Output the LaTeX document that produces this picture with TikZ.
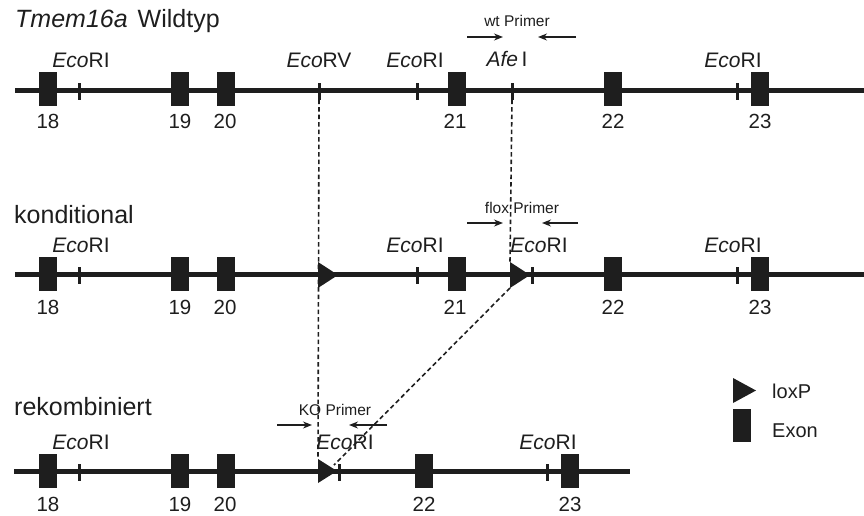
\documentclass[tikz,border=0pt]{standalone}
\usepackage{fontspec}
\setmainfont{Liberation Sans}
\usetikzlibrary{arrows.meta,calc}
\definecolor{ink}{HTML}{1E1E1E}
\tikzset{
  dna/.style={line width=5pt, draw=ink},
  exon/.style={rectangle, fill=ink, draw=none, minimum width=18pt, minimum height=34pt, inner sep=0pt},
  site/.style={rectangle, fill=ink, draw=none, minimum width=3pt, minimum height=17pt, inner sep=0pt},
  lox/.style={fill=ink, draw=none},
  lbl/.style={font=\fontsize{21}{24}\selectfont, anchor=base, text=ink, inner sep=0pt},
  num/.style={font=\fontsize{20.5}{24}\selectfont, anchor=base, text=ink, inner sep=0pt},
  ttl/.style={font=\fontsize{25}{30}\selectfont, anchor=base west, text=ink, inner sep=0pt},
  prm/.style={font=\fontsize{15.5}{18}\selectfont, anchor=base, text=ink, inner sep=0pt},
  leg/.style={font=\fontsize{20}{24}\selectfont, anchor=base west, text=ink, inner sep=0pt},
  parrow/.style={line width=1.3pt, draw=ink, -{Stealth[length=9pt,width=7pt]}},
  guide/.style={line width=1.6pt, draw=ink, dash pattern=on 4.5pt off 3pt},
}
\begin{document}
\begin{tikzpicture}[x=1pt,y=-1pt]
\useasboundingbox (0,0) rectangle (864,515);

% ---------- Row 1: Wildtyp ----------
\node[ttl] (t1) at (15,27) {\textit{Tmem16a}\hspace{10pt}Wildtyp};
\coordinate (l1s) at (15,90);
\coordinate (l1e) at (864,90);
\draw[dna] (l1s) -- (l1e);
\node[exon] (a18) at (48,89) {};
\node[exon] (a19) at (179.5,89) {};
\node[exon] (a20) at (225.5,89) {};
\node[exon] (a21) at (457,89) {};
\node[exon] (a22) at (613,89) {};
\node[exon] (a23) at (760,89) {};
\node[site] (aE1) at (79,91) {};
\node[site] (aRV) at (319,91) {};
\node[site] (aE2) at (417,91) {};
\node[site] (aAfe) at (512,91) {};
\node[site] (aE3) at (737,91) {};
\node[lbl] at (81,67) {\textit{Eco}RI};
\node[lbl] at (319,67) {\textit{Eco}RV};
\node[lbl] at (415,67) {\textit{Eco}RI};
\node[lbl] at (507,66) {\textit{Afe}\,I};
\node[lbl] at (733,67) {\textit{Eco}RI};
\node[num] at (48,128) {18};
\node[num] at (180,128) {19};
\node[num] at (225,128) {20};
\node[num] at (455,128) {21};
\node[num] at (613,128) {22};
\node[num] at (760,128) {23};
\node[prm] (wtp) at (517,26) {wt Primer};
\coordinate (wf1) at (467,37); \coordinate (wf2) at (503,37);
\coordinate (wr1) at (576,37); \coordinate (wr2) at (538,37);
\draw[parrow] (wf1) -- (wf2);
\draw[parrow] (wr1) -- (wr2);

% ---------- Row 2: konditional ----------
\node[ttl] (t2) at (14,223) {konditional};
\coordinate (l2s) at (15,274);
\coordinate (l2e) at (864,274);
\draw[dna] (l2s) -- (l2e);
\node[exon] (b18) at (48,274) {};
\node[exon] (b19) at (179.5,274) {};
\node[exon] (b20) at (225.5,274) {};
\node[exon] (b21) at (457,274) {};
\node[exon] (b22) at (613,274) {};
\node[exon] (b23) at (760,274) {};
\node[site] (bE1) at (79,275) {};
\node[site] (bE2) at (417,275) {};
\node[site] (bE3) at (532,275) {};
\node[site] (bE4) at (737,275) {};
\coordinate (bL1a) at (318,262); \coordinate (bL1b) at (338,275); \coordinate (bL1c) at (318,288);
\fill[lox] (bL1a) -- (bL1b) -- (bL1c) -- cycle;
\coordinate (bL2a) at (510,262); \coordinate (bL2b) at (530,275); \coordinate (bL2c) at (510,288);
\fill[lox] (bL2a) -- (bL2b) -- (bL2c) -- cycle;
\node[lbl] at (81,252) {\textit{Eco}RI};
\node[lbl] at (415,252) {\textit{Eco}RI};
\node[lbl] at (539,252) {\textit{Eco}RI};
\node[lbl] at (733,252) {\textit{Eco}RI};
\node[num] at (48,314) {18};
\node[num] at (180,314) {19};
\node[num] at (225,314) {20};
\node[num] at (455,314) {21};
\node[num] at (613,314) {22};
\node[num] at (760,314) {23};
\node[prm] (flp) at (522,213) {flox Primer};
\coordinate (ff1) at (467,223); \coordinate (ff2) at (503,223);
\coordinate (fr1) at (578,223); \coordinate (fr2) at (542,223);
\draw[parrow] (ff1) -- (ff2);
\draw[parrow] (fr1) -- (fr2);

% ---------- Row 3: rekombiniert ----------
\node[ttl] (t3) at (14,415) {rekombiniert};
\coordinate (l3s) at (14,471);
\coordinate (l3e) at (630,471);
\draw[dna] (l3s) -- (l3e);
\node[exon] (c18) at (48,470.5) {};
\node[exon] (c19) at (179.5,470.5) {};
\node[exon] (c20) at (225.5,470.5) {};
\node[exon] (c22) at (424,470.5) {};
\node[exon] (c23) at (570,470.5) {};
\node[site] (cE1) at (79,472) {};
\node[site] (cE2) at (339,472) {};
\node[site] (cE3) at (547,472) {};
\coordinate (cL1a) at (318,459); \coordinate (cL1b) at (337,471); \coordinate (cL1c) at (318,483);
\fill[lox] (cL1a) -- (cL1b) -- (cL1c) -- cycle;
\node[lbl] at (81,449) {\textit{Eco}RI};
\node[lbl] at (345,449) {\textit{Eco}RI};
\node[lbl] at (548,449) {\textit{Eco}RI};
\node[num] at (48,511) {18};
\node[num] at (180,511) {19};
\node[num] at (225,511) {20};
\node[num] at (424,511) {22};
\node[num] at (570,511) {23};
\node[prm] (kop) at (335,415) {KO Primer};
\coordinate (kf1) at (277,425); \coordinate (kf2) at (312,425);
\coordinate (kr1) at (387,425); \coordinate (kr2) at (349,425);
\draw[parrow] (kf1) -- (kf2);
\draw[parrow] (kr1) -- (kr2);

% ---------- guide lines ----------
\draw[guide] (aRV.south) -- (cL1a);
\draw[guide] (aAfe.south) -- (bL2a);
\draw[guide] (bL2c) -- ($(cL1b)+(-3,-6)$);

% ---------- legend ----------
\coordinate (gLa) at (733,378); \coordinate (gLb) at (756,390.5); \coordinate (gLc) at (733,403);
\fill[lox] (gLa) -- (gLb) -- (gLc) -- cycle;
\node[exon, minimum height=33pt] (gEx) at (742,425.5) {};
\node[leg] (gt1) at (772,398) {loxP};
\node[leg] (gt2) at (772,437) {Exon};
\end{tikzpicture}
\end{document}
